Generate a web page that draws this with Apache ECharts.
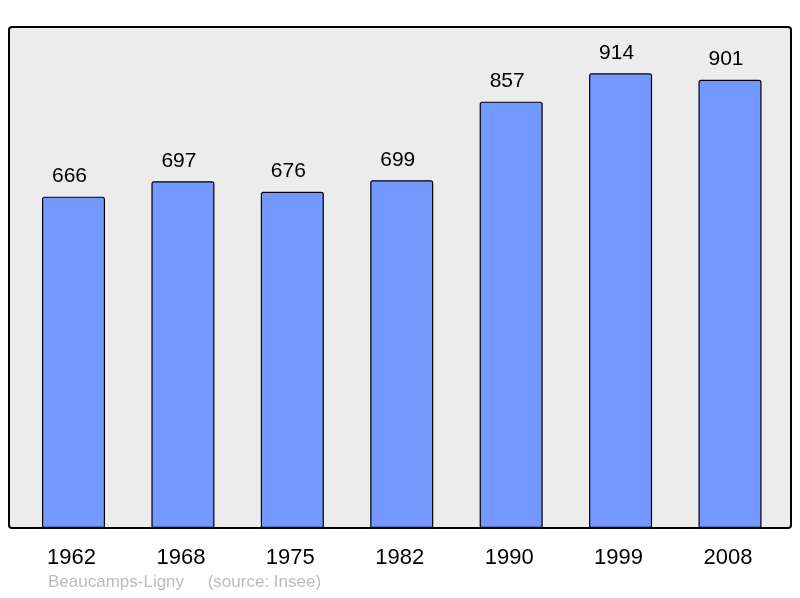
<!DOCTYPE html>
<html><head><meta charset="utf-8">
<script src="https://cdn.jsdelivr.net/npm/echarts@6/dist/echarts.min.js"></script>
<style>html,body{margin:0;padding:0;background:#fff}#c{width:800px;height:598px}</style>
</head><body><div id="c"></div>
<script>
var years = ['1962','1968','1975','1982','1990','1999','2008'];
var population = [666, 697, 676, 699, 857, 914, 901];
var footerText = 'Beaucamps-Ligny     (source: Insee)';

var chart = echarts.init(document.getElementById('c'), null, {renderer:'canvas'});
chart.setOption({
  animation: false,
  textStyle: {fontFamily: 'Liberation Sans, Arial, sans-serif'},
  graphic: [
    {type:'rect', z:-10, shape:{x:9, y:27, width:782, height:501, r:3},
     style:{fill:'#ececec', stroke:'#000', lineWidth:2}},
    {type:'text', left:48, top:574, style:{text: footerText, fill:'#bbbbbb', font:'17px Liberation Sans, Arial, sans-serif'}}
  ],
  grid: {left:18.8, right:800-784.7, top:30.5, bottom:70, containLabel:false},
  xAxis: {
    type:'category', data: years,
    axisLine:{show:false}, axisTick:{show:false},
    axisLabel:{color:'#000', fontSize:22, margin:19, padding:[0,4,0,0]}
  },
  yAxis: {type:'value', min:0, max:1000, show:false, splitLine:{show:false}},
  series: [{
    type:'bar', data: population, barWidth:'57.6%',
    itemStyle:{color:'#7398ff', borderColor:'#000', borderWidth:1.2, borderRadius:[2,2,0,0]},
    label:{show:true, position:'top', distance:10, color:'#000', fontSize:21, offset:[-4,0]}
  }]
});
</script></body></html>
